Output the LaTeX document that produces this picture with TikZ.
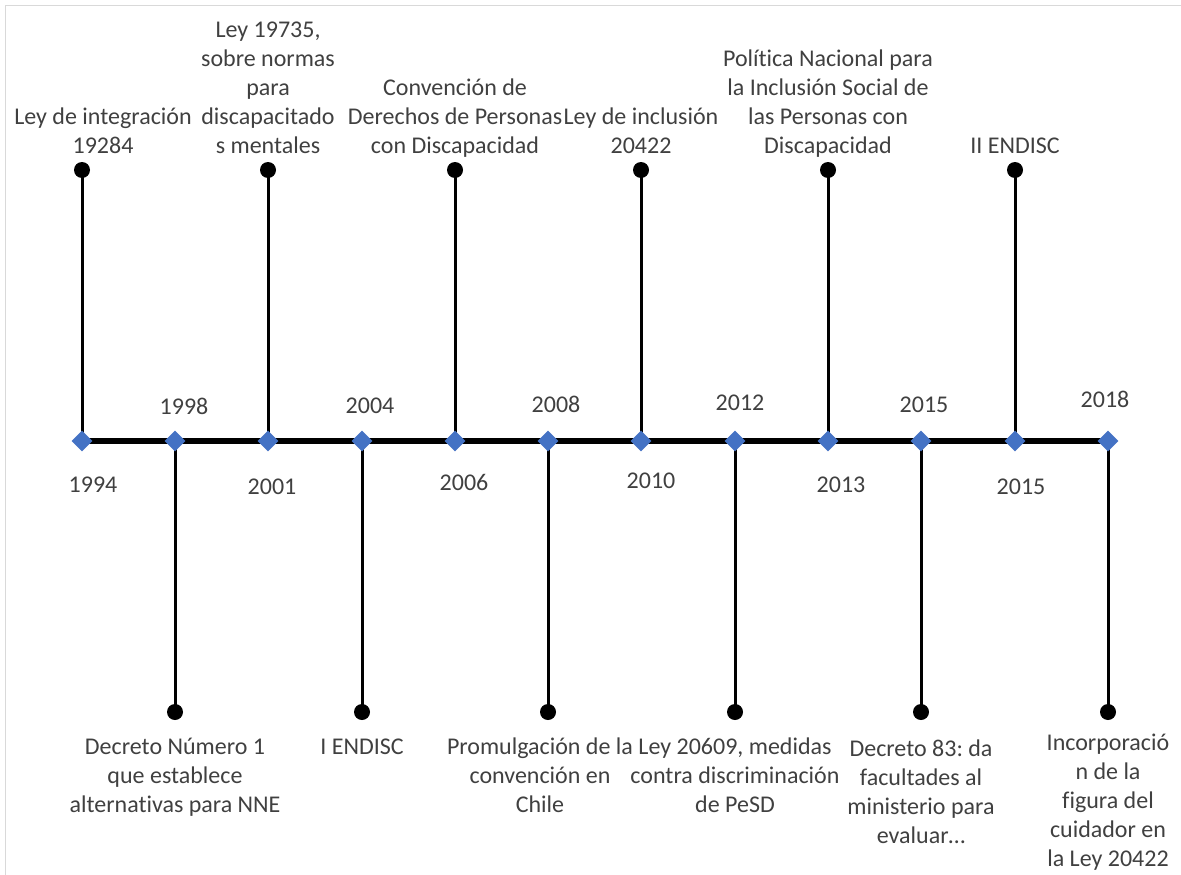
\documentclass[tikz,border=0pt]{standalone}
\usepackage{fontspec}
\setmainfont[Ligatures={NoCommon}]{Carlito}
\usetikzlibrary{shapes.geometric}
\definecolor{txt}{RGB}{64,64,64}
\definecolor{dia}{RGB}{68,114,196}
\definecolor{framec}{RGB}{217,217,217}
\pgfdeclarelayer{background}
\pgfsetlayers{background,main}
\frenchspacing
\begin{document}
\begin{tikzpicture}[x=1pt,y=-1pt,
  lbl/.style={text=txt, align=center, inner sep=0pt, font=\fontsize{24}{28.9}\selectfont\frenchspacing},
  uplbl/.style={lbl, anchor=south},
  dnlbl/.style={lbl, anchor=north},
  yr/.style={text=txt, inner sep=0pt, font=\fontsize{24}{28.9}\selectfont},
  mk/.style={diamond, fill=dia, minimum width=21pt, minimum height=21pt, inner sep=0pt},
  dotm/.style={circle, fill=black, minimum size=16pt, inner sep=0pt},
  stem/.style={line width=3pt},
  axisline/.style={line width=6pt}]
\useasboundingbox (0,0) rectangle (1181,875);
\draw[framec, line width=1.5pt] (5.5,875) -- (5.5,5.5) -- (1181,5.5);

% diamonds
\node[mk] (m1) at (82,441) {};
\node[mk] (m2) at (175,441) {};
\node[mk] (m3) at (268,441) {};
\node[mk] (m4) at (362,441) {};
\node[mk] (m5) at (455,441) {};
\node[mk] (m6) at (548,441) {};
\node[mk] (m7) at (641,441) {};
\node[mk] (m8) at (735,441) {};
\node[mk] (m9) at (828,441) {};
\node[mk] (m10) at (921,441) {};
\node[mk] (m11) at (1015,441) {};
\node[mk] (m12) at (1108,441) {};

% dots
\node[dotm] (d1) at (82,170) {};
\node[dotm] (d2) at (175,712) {};
\node[dotm] (d3) at (268,170) {};
\node[dotm] (d4) at (362,712) {};
\node[dotm] (d5) at (455,170) {};
\node[dotm] (d6) at (548,712) {};
\node[dotm] (d7) at (641,170) {};
\node[dotm] (d8) at (735,712) {};
\node[dotm] (d9) at (828,170) {};
\node[dotm] (d10) at (921,712) {};
\node[dotm] (d11) at (1015,170) {};
\node[dotm] (d12) at (1108,712) {};

\begin{pgfonlayer}{background}
\draw[axisline] (m1.center) -- (m12.center);
\foreach \i in {1,...,12} {\draw[stem] (d\i.center) -- (m\i.center);}
\end{pgfonlayer}

% years
\node[yr] (y1) at (93,485) {1994};
\node[yr] (y2) at (184,406) {1998};
\node[yr] (y3) at (272,487) {2001};
\node[yr] (y4) at (370,406) {2004};
\node[yr] (y5) at (464,482) {2006};
\node[yr] (y6) at (556,404) {2008};
\node[yr] (y7) at (651,481) {2010};
\node[yr] (y8) at (740,403) {2012};
\node[yr] (y9) at (841,485) {2013};
\node[yr] (y10) at (924,405) {2015};
\node[yr] (y11) at (1021,487) {2015};
\node[yr] (y12) at (1105,399) {2018};

% upper labels
\node[uplbl] (t1) at (103,162) {Ley de integración\\19284\strut};
\node[uplbl] (t3) at (268,162) {Ley 19735,\\sobre normas\\para\\discapacitado\\s mentales\strut};
\node[uplbl] (t5) at (455,162) {Convención de\\Derechos de Personas\\con Discapacidad\strut};
\node[uplbl] (t7) at (641,162) {Ley de inclusión\\20422\strut};
\node[uplbl] (t9) at (828,162) {Política Nacional para\\la Inclusión Social de\\las Personas con\\Discapacidad\strut};
\node[uplbl] (t11) at (1015,162) {II ENDISC\strut};

% lower labels
\node[dnlbl] (b2) at (175,734) {\strut Decreto Número 1\\que establece\\alternativas para NNE};
\node[dnlbl] (b4) at (362,734) {\strut I ENDISC};
\node[dnlbl] (b6) at (540,734) {\strut Promulgación de la\\convención en\\Chile};
\node[dnlbl] (b8) at (735,734) {\strut Ley 20609, medidas\\contra discriminación\\de PeSD};
\node[dnlbl] (b10) at (921,736) {\strut Decreto 83: da\\facultades al\\ministerio para\\evaluar…};
\node[dnlbl] (b12) at (1108,730) {\strut Incorporació\\n de la\\figura del\\cuidador en\\la Ley 20422};
\end{tikzpicture}
\end{document}
